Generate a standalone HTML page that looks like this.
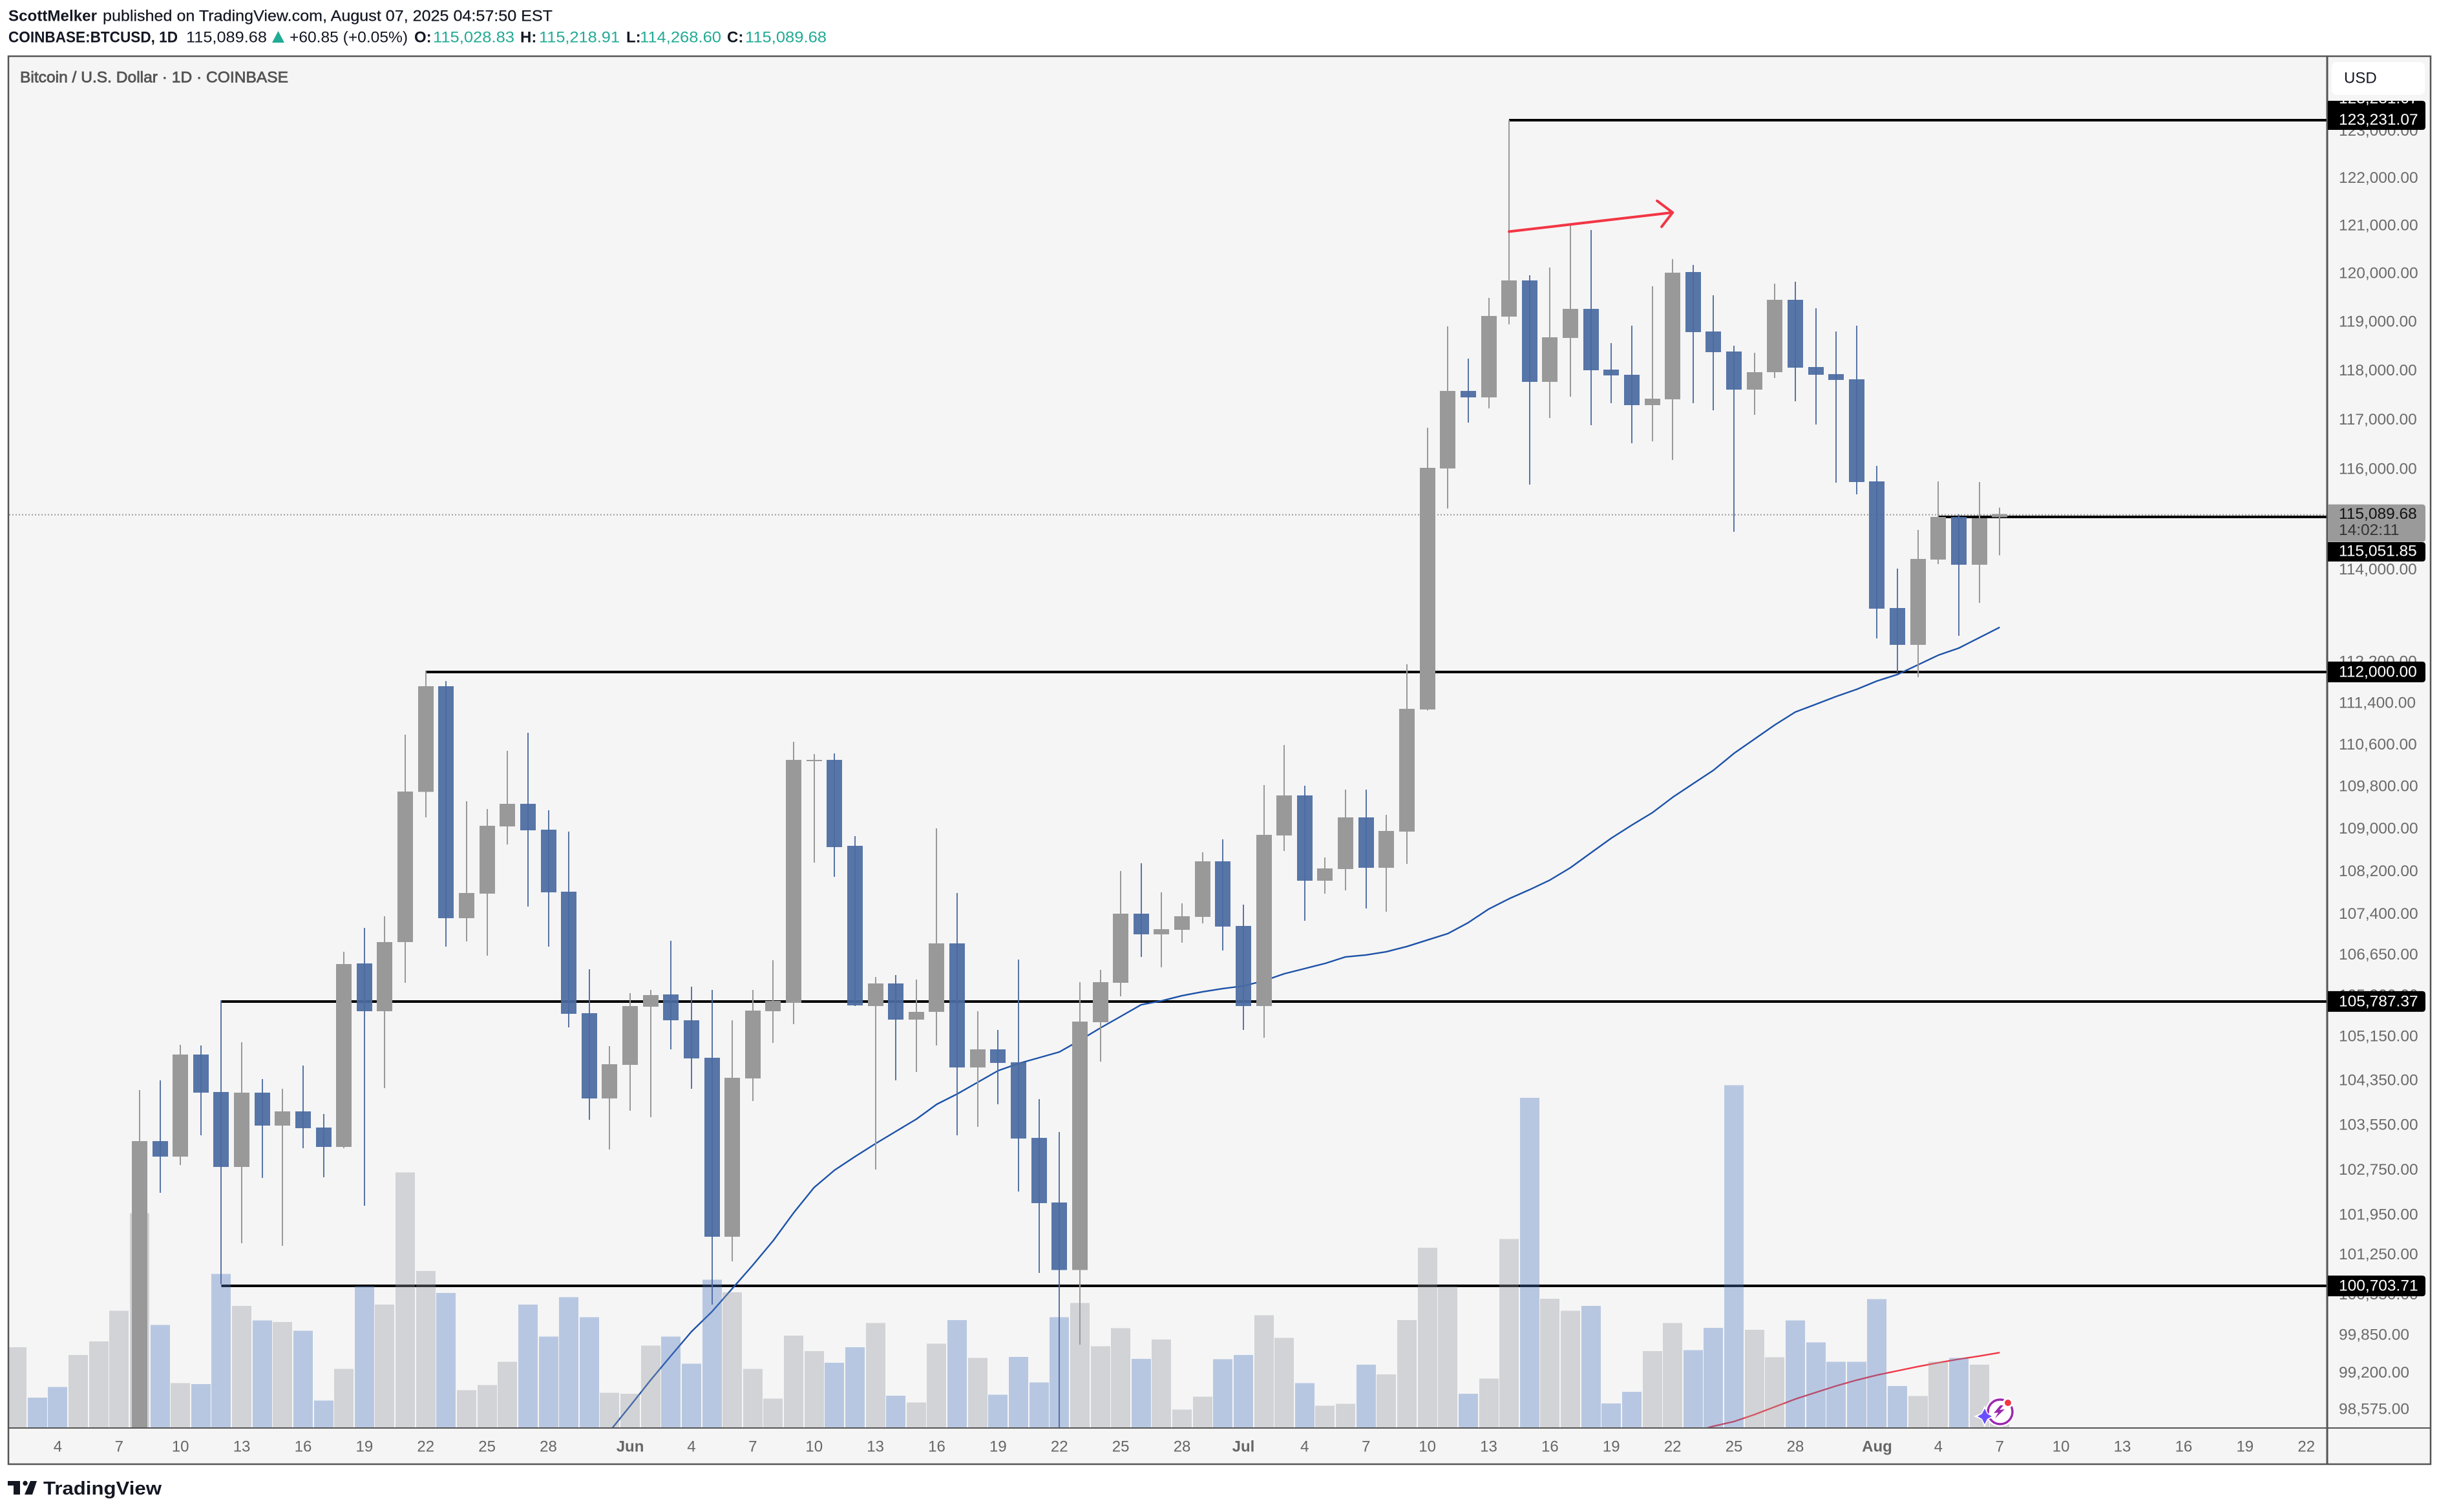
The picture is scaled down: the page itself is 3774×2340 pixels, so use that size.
<!DOCTYPE html>
<html lang="en">
<head>
<meta charset="utf-8">
<title>BTCUSD 1D chart</title>
<style>
html,body{margin:0;padding:0;background:#fff;width:3774px;height:2340px;overflow:hidden}
svg{display:block;font-family:"Liberation Sans",sans-serif}
</style>
</head>
<body>
<svg id="chart" xmlns="http://www.w3.org/2000/svg" width="3774" height="2340" viewBox="0 0 3774 2340">
  <defs>
    <clipPath id="plot-clip"><rect x="14" y="88" width="3586" height="2121"/></clipPath>
    <clipPath id="tag-clip"><rect x="3602" y="156" width="152" height="45"/></clipPath>
  </defs>
  <rect width="3774" height="2340" fill="#ffffff"/>

  <g font-size="24" fill="#131722" dominant-baseline="central">
    <text x="13" y="25" font-weight="bold" textLength="137" lengthAdjust="spacingAndGlyphs">ScottMelker</text>
    <text x="159" y="25" stroke="#131722" stroke-width="0.25" textLength="696" lengthAdjust="spacingAndGlyphs">published on TradingView.com, August 07, 2025 04:57:50 EST</text>
  </g>
  <g font-size="24" fill="#131722" dominant-baseline="central">
    <text x="13" y="58" font-weight="bold" textLength="262" lengthAdjust="spacingAndGlyphs">COINBASE:BTCUSD, 1D</text>
    <text x="288" y="58" textLength="125" lengthAdjust="spacingAndGlyphs">115,089.68</text>
    <polygon points="421,66 440,66 430.5,48" fill="#22ab94"/>
    <text x="448" y="58" textLength="183" lengthAdjust="spacingAndGlyphs">+60.85 (+0.05%)</text>
    <text x="641" y="58" font-weight="bold">O:</text>
    <text x="670" y="58" fill="#22ab94" textLength="126" lengthAdjust="spacingAndGlyphs">115,028.83</text>
    <text x="805" y="58" font-weight="bold">H:</text>
    <text x="834" y="58" fill="#22ab94" textLength="125" lengthAdjust="spacingAndGlyphs">115,218.91</text>
    <text x="969" y="58" font-weight="bold">L:</text>
    <text x="990" y="58" fill="#22ab94" textLength="126" lengthAdjust="spacingAndGlyphs">114,268.60</text>
    <text x="1125" y="58" font-weight="bold">C:</text>
    <text x="1153" y="58" fill="#22ab94" textLength="126" lengthAdjust="spacingAndGlyphs">115,089.68</text>
  </g>

  <rect x="13" y="87" width="3748" height="2179" fill="#f5f5f5"/>
  <g id="plot" clip-path="url(#plot-clip)"></g>

  <text x="31" y="120" font-size="24" fill="#555555" stroke="#555555" stroke-width="0.8" dominant-baseline="central" textLength="415" lengthAdjust="spacingAndGlyphs">Bitcoin / U.S. Dollar · 1D · COINBASE</text>

  <line x1="13" y1="2210" x2="3761" y2="2210" stroke="#555555" stroke-width="2"/>
  <line x1="3601" y1="87" x2="3601" y2="2266" stroke="#555555" stroke-width="3"/>
  <rect x="13" y="87" width="3748" height="2179" fill="none" stroke="#555555" stroke-width="2.5"/>

  <rect x="3608" y="96" width="144" height="51" rx="8" fill="#ffffff"/>
  <text x="3627" y="121" font-size="24" fill="#131722" dominant-baseline="central">USD</text>

  <g id="time-axis" font-size="24" fill="#666666" text-anchor="middle" dominant-baseline="central"></g>
  <g id="price-axis" font-size="24.5" fill="#6a6a6a" dominant-baseline="central"></g>
  <g id="price-tags" font-size="24.5" dominant-baseline="central"></g>

  <g>
    <circle cx="3095" cy="2185" r="23" fill="#ffffff"/>
    <circle cx="3095" cy="2185" r="19" fill="none" stroke="#9c27b0" stroke-width="3.5"/>
    <polygon points="3095,2175 3085,2187 3092,2186 3087,2195 3102,2181 3094,2182 3100,2175" fill="#9c27b0"/>
    <circle cx="3107" cy="2171" r="8" fill="#ffffff"/>
    <circle cx="3107" cy="2171" r="5" fill="#f23645"/>
    <polygon points="3071,2175 3076,2187 3088,2192 3076,2197 3071,2209 3066,2197 3054,2192 3066,2187" fill="#ffffff"/>
    <polygon points="3071,2180 3075,2188 3082,2192 3075,2196 3071,2204 3067,2196 3060,2192 3067,2188" fill="#6a4dff"/>
  </g>

  <g fill="#131722">
    <polygon points="12,2292 31,2292 31,2313 21,2313 21,2299 12,2299"/>
    <circle cx="39" cy="2295.5" r="3.7"/>
    <polygon points="47,2292 57,2292 50,2313 38,2313"/>
    <text x="67" y="2313" font-size="29" font-weight="bold" textLength="183" lengthAdjust="spacingAndGlyphs">TradingView</text>
  </g>
</svg>

<script>
// ---------- data ----------
const candleStart = '05-08';
const opens = [97030,103233,102955,104794,104114,102770,104102,103511,103765,103476,103128,106463,105584,106859,109678,111707,107302,107760,109023,109452,108961,107796,105549,103997,
104606,105667,105893,105418,104735,101534,104361,105584,105738,110270,110289,108656,105679,106094,105430,105572,106835,104560,104888,104653,103291,102140,100951,105382,106106,107386,107003,107086,107326,108365,
107158,105679,108851,109611,108002,108220,109194,108244,108924,111256,116007,117576,117445,119101,119851,117759,118662,119262,118012,117906,117287,117405,120026,118795,118384,117602,117959,119444,118065,117919,117813,
115747,113233,112509,114188,115034,114085,115028.83];
const highs = [104149,104325,104970,104958,105787,105017,104349,104173,104595,103719,106679,107122,107338,110772,112000,111807,109501,109353,110462,110809,109329,108924,106355,104946,
105916,105976,106883,106035,105976,105418,105976,106523,110636,110400,110413,108839,106213,106248,106165,108986,107772,105584,105240,106535,103985,103394,106118,106343,108184,108329,107784,107578,108535,108777,
107554,109807,110574,109795,108438,109721,109721,109243,112133,116829,118901,118237,119490,123231.07,119959,120119,120998,120903,118556,118914,119731,120294,120173,119543,118503,118357,119784,119825,119275,118795,118914,
116059,114007,114778,115747,115086,115734,115218.91];
const lows = [97000,102312,102805,103337,100703.71,101421,102575,101375,103105,102587,103105,102083,104185,106106,109194,106775,106871,106607,108680,107518,106775,105288,103615,103082,
103777,103661,104888,104173,100346,101103,103951,105005,105347,108341,108075,105680,102724,104325,104478,104958,103337,103487,103893,102335,100899,98200,99652,104665,105857,106583,106391,106847,107206,106703,
105240,105099,108559,107254,107760,107820,107482,107422,108317,111240,115203,116934,117222,118940,115683,117025,117458,116881,117327,116514,116554,116175,117327,117182,114739,117091,117840,117366,116894,115722,115488,
112636,111970,111880,114099,112686,113334,114268.60];
const closes = [103233,102955,104794,104102,102770,104102,103511,103765,103464,103128,106451,105584,106859,109682,111707,107302,107772,109035,109452,108949,107784,105537,103997,104618,
105679,105881,105418,104724,101534,104372,105596,105774,110289,110290,108632,105691,106094,105430,105572,106835,104560,104888,104642,103279,102128,100951,105394,106118,107386,107003,107098,107338,108365,107146,
105679,108863,109611,108000,108232,109194,108244,108937,111268,116020,117576,117445,119114,119851,117759,118675,119262,117999,117893,117287,117418,120012,118781,118371,117602,117959,119444,118052,117906,117800,115734,
113220,112509,114201,115034,114085,115008,115089.68];

const volumeStart = '05-02';
const preCandleVolumeDown = [0,1,1,0,0,0];
const volumes = [2.07,0.77,1.04,1.87,2.22,3.01,5.53,2.64,1.14,1.12,3.96,3.14,2.76,2.72,2.49,0.69,1.51,3.65,3.17,6.58,4.04,3.47,0.96,1.09,1.69,3.17,2.34,3.36,2.84,0.89,
0.87,2.11,2.34,1.64,3.81,3.49,1.51,0.74,2.37,1.97,1.67,2.07,2.69,0.82,0.64,2.16,2.77,1.79,0.84,1.82,1.16,2.84,3.21,2.09,2.56,1.77,2.27,0.46,0.79,1.76,
1.87,2.89,2.31,1.14,0.56,0.61,1.62,1.37,2.77,4.64,3.64,0.87,1.26,4.86,8.51,3.32,3.01,3.14,0.62,0.92,1.97,2.69,1.99,2.57,8.83,2.52,1.81,2.76,2.19,1.69,1.69,
3.31,1.07,0.81,1.69,1.79,1.62,0.30];

const maStart = '05-31';
const maValues = [98166,98597,99040,99461,99876,100223,100627,101035,101466,101957,102404,102713,102955,103186,103406,103626,103893,104079,104290,104501,104630,104735,104841,105052,105276,105489,105703,105774,105869,105940,106000,
106047,106142,106272,106367,106463,106583,106619,106679,106775,106895,107014,107218,107470,107663,107832,108014,108244,108523,108801,109046,109280,109574,109832,110090,110413,110685,110958,111206,111356,111506,111644,
111807,111933,112120,112309,112446,112649,112853];

const volMaStart = '07-23';
const volMaValues = [-0.12,0.03,0.15,0.33,0.53,0.73,0.90,1.07,1.22,1.35,1.46,1.57,1.67,1.76,1.84,1.93];

const timeTickDates = ['05-04','05-07','05-10','05-13','05-16','05-19','05-22','05-25','05-28','06-01','06-04','06-07','06-10','06-13','06-16','06-19','06-22','06-25','06-28','07-01','07-04','07-07','07-10','07-13','07-16','07-19','07-22','07-25','07-28','08-01','08-04','08-07','08-10','08-13','08-16','08-19','08-22'];
const timeTickLabels = ['4','7','10','13','16','19','22','25','28','Jun','4','7','10','13','16','19','22','25','28','Jul','4','7','10','13','16','19','22','25','28','Aug','4','7','10','13','16','19','22'];
const priceTicks = [123000,122000,121000,120000,119000,118000,117000,116000,114000,112200,111400,110600,109800,109000,108200,107400,106650,105900,105150,104350,103550,102750,101950,101250,100550,99850,99200,98575];
const priceTickLabels = ['123,000.00','122,000.00','121,000.00','120,000.00','119,000.00','118,000.00','117,000.00','116,000.00','114,000.00','112,200.00','111,400.00','110,600.00','109,800.00','109,000.00','108,200.00','107,400.00','106,650.00','105,900.00','105,150.00','104,350.00','103,550.00','102,750.00','101,950.00','101,250.00','100,550.00','99,850.00','99,200.00','98,575.00'];
const levelPrices = [123231.07,112000,105787.37,100703.71,115051.85];
const levelStarts = ['07-14','05-22','05-12','05-12','08-04'];
const levelLabels = ['123,231.07','112,000.00','105,787.37','100,703.71','115,051.85'];
const lastPrice = 115089.68;
const arrowDates = ['07-14','07-22'];
const arrowPrices = [120869,121270];

// ---------- axis functions ----------
const X_ZERO = 89.4, X_STEP = 31.63, Y_REF_PRICE = 123231.07, Y_REF = 185.7, Y_K = 8924, AXIS_K = 8938, VOL_BASE = 2209, VOL_K = 59.95;
function dayNumber(s){ const p = s.split('-'); return Date.UTC(2025, +p[0]-1, +p[1]) / 864e5; }
const DAY_ZERO = dayNumber('05-04');
function xOfDay(n){ return X_ZERO + X_STEP * (n - DAY_ZERO); }
function xOf(s){ return xOfDay(dayNumber(s)); }
function yOf(p){ return Y_REF + Y_K * Math.log(Y_REF_PRICE / p); }
function yAxis(p){ return Y_REF + AXIS_K * Math.log(Y_REF_PRICE / p); }
function yVol(v){ return VOL_BASE - VOL_K * v; }

const NS = 'http://www.w3.org/2000/svg';
function make(tag, attrs, parent, text){
  const el = document.createElementNS(NS, tag);
  for (const k in attrs) el.setAttribute(k, attrs[k]);
  if (text !== undefined) el.textContent = text;
  parent.appendChild(el);
  return el;
}
const plot = document.getElementById('plot');
const timeAxis = document.getElementById('time-axis');
const priceAxis = document.getElementById('price-axis');
const tags = document.getElementById('price-tags');

// last price dotted line
const lastLine = make('line', {x1:14, x2:3600, y1:yOf(lastPrice)+1, y2:yOf(lastPrice)+1, stroke:'#999999', 'stroke-width':2, 'stroke-dasharray':'2 3'}, plot);



// horizontal levels
levelPrices.forEach(function(p, i){
  const ly = Math.round(yAxis(p));
  const l = make('line', {x1:xOf(levelStarts[i]), x2:3600, y1:ly, y2:ly, stroke:'#000000', 'stroke-width':4, 'shape-rendering':'crispEdges'}, plot);
  
  
});

// moving average
const maStartDay = dayNumber(maStart);
const maLine = make('polyline', {fill:'none', stroke:'#1c52a8', 'stroke-width':2.4, 'stroke-linejoin':'round',
  points: maValues.map(function(v, i){ return xOfDay(maStartDay + i).toFixed(1) + ',' + yOf(v).toFixed(1); }).join(' ')}, plot);



// volume moving average
const volMaStartDay = dayNumber(volMaStart);
const volMaLine = make('polyline', {fill:'none', stroke:'#f23645', 'stroke-width':2.4, 'stroke-linejoin':'round',
  points: volMaValues.map(function(v, i){ return xOfDay(volMaStartDay + i).toFixed(1) + ',' + yVol(v).toFixed(1); }).join(' ')}, plot);



// volume bars
const volStartDay = dayNumber(volumeStart);
const candleStartDay = dayNumber(candleStart);
volumes.forEach(function(v, i){
  const day = volStartDay + i;
  const c = day - candleStartDay;
  const down = c < 0 ? preCandleVolumeDown[i] === 1 : closes[c] < opens[c];
  const cx = Math.round(xOfDay(day));
  const top = yVol(v);
  const b = make('rect', {x:cx-15, y:top, width:30, height:VOL_BASE-top, fill: down ? 'rgba(78,119,189,0.37)' : 'rgba(149,152,161,0.37)', 'shape-rendering':'crispEdges'}, plot);
  
  
});

// candles
opens.forEach(function(o, i){
  const cl = closes[i];
  const day = candleStartDay + i;
  const cx = Math.round(xOfDay(day));
  const up = cl >= o;
  const col = up ? '#999999' : '#4a6ba0';
  const op = up ? 1 : 0.93;
  const wick = make('rect', {x:cx-1, y:yOf(highs[i]), width:2, height:yOf(lows[i])-yOf(highs[i]), fill:col, 'fill-opacity':op, 'shape-rendering':'crispEdges'}, plot);
  
  
  const top = yOf(Math.max(o, cl));
  const bot = yOf(Math.min(o, cl));
  const body = make('rect', {x:cx-12, y:top, width:24, height:Math.max(bot-top, 2), fill:col, 'fill-opacity':op, 'shape-rendering':'crispEdges'}, plot);
  
  
});

// red arrow annotation
const ax1 = xOf(arrowDates[0]), ay1 = yOf(arrowPrices[0]), ax2 = xOf(arrowDates[1]), ay2 = yOf(arrowPrices[1]);
const arrow = make('path', {fill:'none', stroke:'#f23645', 'stroke-width':4, 'stroke-linecap':'round', 'stroke-linejoin':'round',
  d:'M'+ax1+' '+ay1+' L'+ax2+' '+ay2+' M'+(ax2-24)+' '+(ay2-18)+' L'+ax2+' '+ay2+' L'+(ax2-17)+' '+(ay2+22)}, plot);



// time axis labels
timeTickLabels.forEach(function(t, i){
  const bold = t.length === 3;
  const lab = make('text', {x:xOf(timeTickDates[i]), y:2239, 'font-weight': bold ? 'bold' : 'normal'}, timeAxis, t);
  
  
});

// price axis labels
priceTicks.forEach(function(p, i){
  const lab = make('text', {x: 3619, y:yAxis(p)}, priceAxis, priceTickLabels[i]);
  
  
});

function tagPath(x, y, w, h){
  const r = 5;
  return 'M'+x+' '+y+' H'+(x+w-r)+' Q'+(x+w)+' '+y+' '+(x+w)+' '+(y+r)+' V'+(y+h-r)+' Q'+(x+w)+' '+(y+h)+' '+(x+w-r)+' '+(y+h)+' H'+x+' Z';
}

// last price countdown tag
const lastTag = make('path', {d:tagPath(3602, yOf(lastPrice)-15, 151, 58), fill:'#9a9a9a'}, tags);


const lastText = make('text', {x:3619, y:yOf(lastPrice), fill:'#111111'}, tags, '115,089.68');


const countdown = make('text', {x:3619, y:yOf(lastPrice)+25, fill:'#333333'}, tags, '14:02:11');



// level tags
levelPrices.forEach(function(p, i){
  const y = yAxis(p);
  const h = 32;
  const tagTop = i === 0 ? 156 : (i === 4 ? 839 : y - h/2);
  const tagH = i === 0 ? 45 : (i === 4 ? 30 : h);
  const t = make('path', {d:tagPath(3602, tagTop, 151, tagH), fill:'#000000'}, tags);
  
  
  if (i === 0) {
    const dup = make('text', {x:3619, y:y-33, fill:'#ffffff', 'clip-path':'url(#tag-clip)'}, tags, levelLabels[i]);
    
    
  }
  const tx = make('text', {x:3619, y: i === 4 ? 853 : y, fill:'#ffffff'}, tags, levelLabels[i]);
  
  
});
</script>
</body>
</html>
